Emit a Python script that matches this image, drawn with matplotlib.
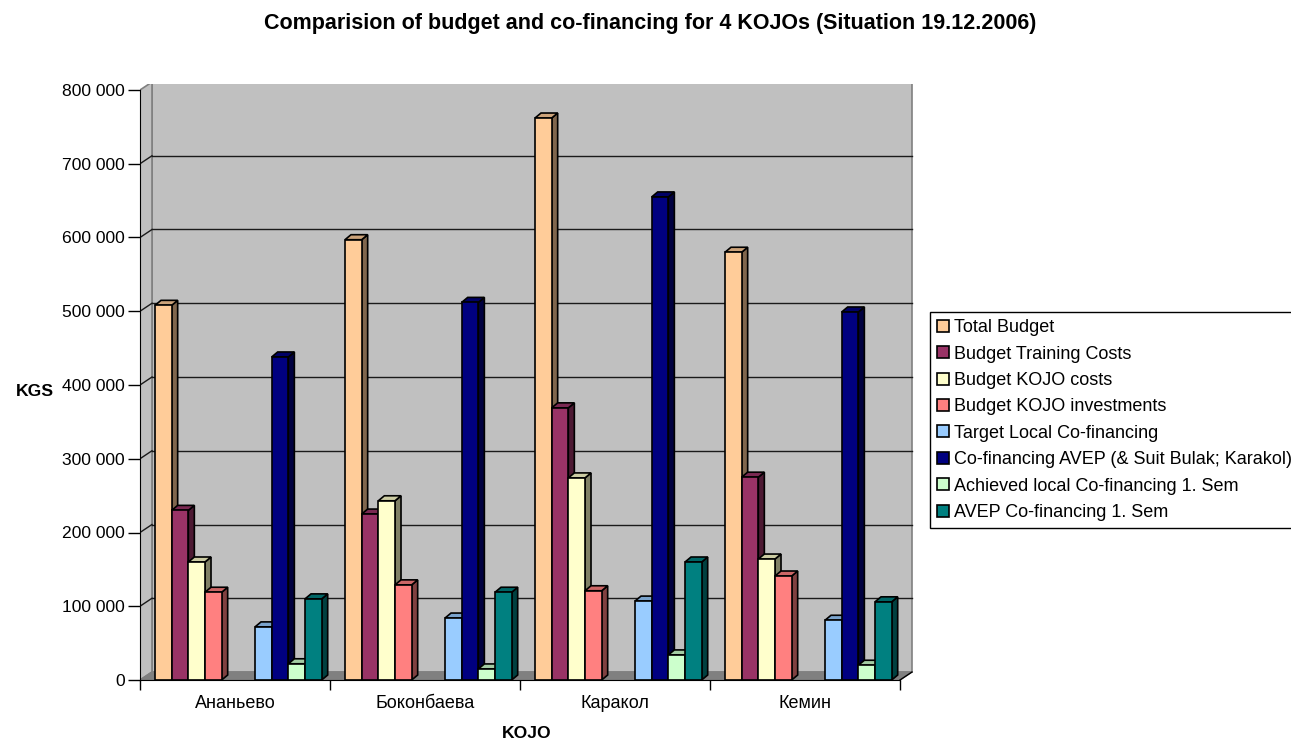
import matplotlib
matplotlib.use('Agg')
import matplotlib.pyplot as plt
from matplotlib.patches import Polygon, Patch
from matplotlib.ticker import FuncFormatter

plt.rcParams['font.family'] = ['Liberation Sans', 'DejaVu Sans']

# data
kojos = ['Ананьево', 'Боконбаева', 'Каракол', 'Кемин']
series_names = ['Total Budget', 'Budget Training Costs', 'Budget KOJO costs',
                'Budget KOJO investments', 'Target Local Co-financing',
                'Co-financing AVEP (& Suit Bulak; Karakol)',
                'Achieved local Co-financing 1. Sem', 'AVEP Co-financing 1. Sem']
total_budget = [508000, 597000, 762000, 580000]
training_costs = [230000, 225000, 369000, 275000]
kojo_costs = [160000, 243000, 274000, 164000]
kojo_investments = [119000, 129000, 121000, 141000]
target_local = [72000, 84000, 107000, 81000]
avep_cofin = [438000, 512000, 655000, 499000]
achieved_local = [22000, 15000, 34000, 20000]
avep_sem = [110000, 119000, 160000, 106000]
yticks = list(range(0, 800001, 100000))

all_series = [total_budget, training_costs, kojo_costs, kojo_investments,
              target_local, avep_cofin, achieved_local, avep_sem]
colors = ['#FFCC99', '#993366', '#FFFFCC', '#FF8080',
          '#99CCFF', '#000080', '#CCFFCC', '#008080']
slots = [0, 1, 2, 3, 6, 7, 8, 9]


def shade(c, f):
    r, g, b = matplotlib.colors.to_rgb(c)
    return (r * f, g * f, b * f)


W, H = 1291, 740
fig = plt.figure(figsize=(W / 100, H / 100), dpi=100)
# plot area in pixels: front axis x=140, bottom y=680, 1 category = 190px
ax = fig.add_axes([140 / W, (H - 680) / H, 775 / W, 596 / H])
ymax = 800000
px_y = ymax / 590.0      # value per pixel
px_x = 1 / 190.0         # category units per pixel
ax.set_xlim(0, 775 * px_x)
ax.set_ylim(0, 596 * px_y)
ax.set_facecolor('none')

DX, DY = 12 * px_x, 8 * px_y        # depth of walls
bdx, bdy = 6 * px_x, 5 * px_y       # depth of a bar
ncat = len(kojos)

# walls and floor
ax.add_patch(Polygon([(DX, DY), (ncat + DX, DY), (ncat + DX, ymax + DY), (DX, ymax + DY)],
                     closed=True, facecolor='#C0C0C0', edgecolor='#808080', lw=1.2, zorder=0))
ax.add_patch(Polygon([(0, 0), (DX, DY), (DX, ymax + DY), (0, ymax)],
                     closed=True, facecolor='#C0C0C0', edgecolor='#808080', lw=1.2, zorder=0))
ax.add_patch(Polygon([(0, 0), (ncat, 0), (ncat + DX, DY), (DX, DY)],
                     closed=True, facecolor='#808080', edgecolor='#808080', lw=1, zorder=0.5))
for v in yticks[1:-1]:
    ax.plot([DX, ncat + DX], [v + DY, v + DY], color='#1a1a1a', lw=1, zorder=0.3)
    ax.plot([0, DX], [v, v + DY], color='#1a1a1a', lw=1, zorder=0.3)
ax.plot([ncat, ncat + DX], [0, DY], color='black', lw=1, zorder=0.6, clip_on=False)

# bars with a fake 3d look
bw = 16.67 * px_x
off = 15 * px_x
for k, vals in enumerate(all_series):
    xs = [i + off + slots[k] * bw for i in range(ncat)]
    z = 2 + slots[k] * 0.1
    ax.bar(xs, vals, width=bw, align='edge', color=colors[k],
           edgecolor='black', lw=1.2, zorder=z + 0.05)
    for x0, v in zip(xs, vals):
        x1 = x0 + bw
        ax.add_patch(Polygon([(x1, 0), (x1 + bdx, bdy), (x1 + bdx, v + bdy), (x1, v)],
                             closed=True, facecolor=shade(colors[k], 0.5),
                             edgecolor='black', lw=1.2, zorder=z))
        ax.add_patch(Polygon([(x0, v), (x0 + bdx, v + bdy), (x1 + bdx, v + bdy), (x1, v)],
                             closed=True, facecolor=shade(colors[k], 0.8),
                             edgecolor='black', lw=1.2, zorder=z))

# axes
for s in ['top', 'right']:
    ax.spines[s].set_visible(False)
ax.spines['left'].set_bounds(0, ymax)
ax.spines['bottom'].set_bounds(0, ncat)
ax.spines['left'].set_zorder(5)
ax.spines['bottom'].set_zorder(5)
ax.set_yticks(yticks)
ax.yaxis.set_major_formatter(FuncFormatter(lambda v, p: f'{int(v):,}'.replace(',', ' ')))
ax.tick_params(axis='y', length=9, width=1, pad=2, labelsize=12.6)
ax.set_xticks(range(ncat + 1))
ax.set_xticklabels([])
ax.tick_params(axis='x', which='major', length=7.5, width=1)
ax.set_xticks([i + 0.5 for i in range(ncat)], minor=True)
ax.set_xticklabels(kojos, minor=True)
ax.tick_params(axis='x', which='minor', length=0, pad=11, labelsize=13)

fig.text(650 / W, 1 - 23 / H,
         'Comparision of budget and co-financing for 4 KOJOs (Situation 19.12.2006)',
         ha='center', va='center', fontsize=15.5, fontweight='bold')
fig.text(35 / W, 1 - 392 / H, 'KGS', ha='center', va='center', fontsize=12.6, fontweight='bold')
fig.text(527 / W, 1 - 733 / H, 'KOJO', ha='center', va='center', fontsize=12.6, fontweight='bold')

handles = [Patch(facecolor=c, edgecolor='black', lw=1.2) for c in colors]
leg = fig.legend(handles, series_names, loc='upper left',
                 bbox_to_anchor=(930 / W, 1 - 312 / H), fontsize=13,
                 frameon=True, fancybox=False, edgecolor='black', framealpha=1,
                 borderaxespad=0, borderpad=0.4, labelspacing=0.52,
                 handlelength=0.65, handleheight=0.65, handletextpad=0.3)
leg.get_frame().set_linewidth(1)

fig.savefig('out.png', dpi=100)
